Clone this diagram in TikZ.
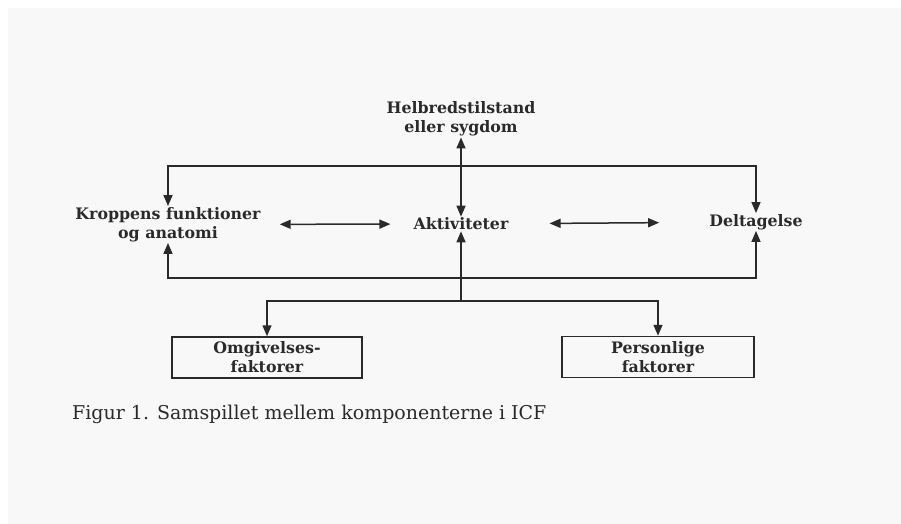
\documentclass[tikz,border=0pt]{standalone}
\usepackage{fontspec}
\setmainfont{DejaVu Serif}
\usetikzlibrary{arrows.meta}
\definecolor{ink}{HTML}{2A2A2A}
\definecolor{page}{HTML}{F8F8F8}
\tikzset{
  lbl/.style={font=\bfseries\fontsize{15.8}{19}\selectfont,text=ink,align=center,inner sep=1pt},
  fbox/.style={lbl,draw=ink,line width=1.5pt,minimum width=190pt,minimum height=41pt,inner sep=0pt},
  arr/.style={-{Triangle[length=11pt,width=9pt]},draw=ink,line width=1.5pt},
  darr/.style={{Triangle[length=11pt,width=9pt]}-{Triangle[length=11pt,width=9pt]},draw=ink,line width=1.5pt},
}

\begin{document}
\begin{tikzpicture}[x=1pt,y=-1pt]
 % page
 \fill[white] (0,0) rectangle (901,524);
 \fill[page] (8,8) rectangle (901,524);
 % components
 \node[lbl] (helb) at (461,119) {Helbredstilstand\\eller sygdom};
 \node[lbl] (krop) at (168,224.5) {Kroppens funktioner\\og anatomi};
 \node[lbl] (akt) at (461,224) {Aktiviteter};
 \node[lbl] (delt) at (756,222) {Deltagelse};
 \node[fbox] (omg) at (267,357.5) {Omgivelses-\\faktorer};
 \node[fbox,minimum width=192pt] (pers) at (658,357) {Personlige\\faktorer};
 \node[anchor=base west,font=\fontsize{19}{22}\selectfont,text=ink,inner sep=0pt] (cap) at (72,419) {Figur 1. Samspillet mellem komponenterne i ICF};
 % branch points
 \coordinate (top) at (461,166);
 \coordinate (bot) at (461,278);
 \coordinate (fork) at (461,301);
 % connectors
 \draw[darr] (helb) -- (akt);
 \draw[arr] (top) -| (krop);
 \draw[arr] (top) -| (delt);
 \draw[arr] (bot) -| (krop);
 \draw[arr] (bot) -| (delt);
 \draw[arr] (fork) -- (akt);
 \draw[arr] (fork) -| (omg);
 \draw[arr] (fork) -| (pers);
 \draw[darr,shorten <=18pt,shorten >=22pt] (krop) -- (akt);
 \draw[darr,shorten <=40pt,shorten >=49pt] (akt) -- (delt);
\end{tikzpicture}
\end{document}
